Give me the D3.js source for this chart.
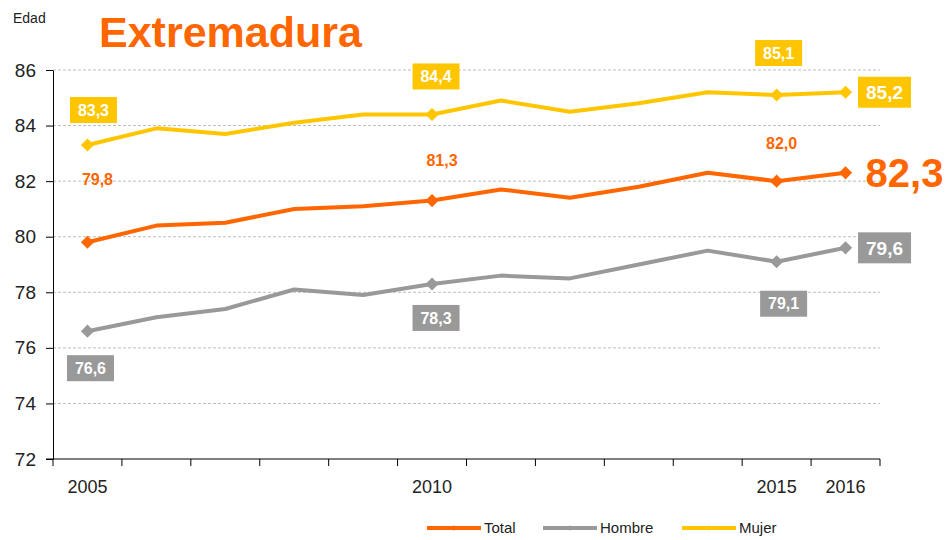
<!DOCTYPE html>
<html>
<head>
<meta charset="utf-8">
<script src="https://cdn.jsdelivr.net/npm/d3@7"></script>
<style>
  body { margin: 0; background: #fff; }
  svg { font-family: "Liberation Sans", Arial, sans-serif; }
</style>
</head>
<body>
<svg id="chart" width="949" height="540"></svg>
<script>
const years = [2005, 2006, 2007, 2008, 2009, 2010, 2011, 2012, 2013, 2014, 2015, 2016];
const total = [79.8, 80.4, 80.5, 81.0, 81.1, 81.3, 81.7, 81.4, 81.8, 82.3, 82.0, 82.3];
const hombre = [76.6, 77.1, 77.4, 78.1, 77.9, 78.3, 78.6, 78.5, 79.0, 79.5, 79.1, 79.6];
const mujer = [83.3, 83.9, 83.7, 84.1, 84.4, 84.4, 84.9, 84.5, 84.8, 85.2, 85.1, 85.2];
const yTicks = [72, 74, 76, 78, 80, 82, 84, 86];
const xLabels = [2005, 2010, 2015, 2016];
const markerYears = [2005, 2010, 2015, 2016];
const seriesNames = ["Total", "Hombre", "Mujer"];

const colors = { Total: "#ff6600", Hombre: "#999999", Mujer: "#ffc600" };

const svg = d3.select("#chart");
const plotLeft = 53, plotRight = 880, plotTop = 70, plotBottom = 459;

const x = d3.scaleBand().domain(years).range([plotLeft, plotRight]);
const y = d3.scaleLinear().domain([72, 86]).range([plotBottom, plotTop]);
const cx = d => x(d) + x.bandwidth() / 2;

// gridlines
svg.append("g").selectAll("line")
  .data(yTicks.filter(t => t > 72))
  .enter().append("line")
  .attr("x1", plotLeft).attr("x2", plotRight)
  .attr("y1", d => y(d)).attr("y2", d => y(d))
  .attr("stroke", "#bdbdbd").attr("stroke-dasharray", "3,2").attr("stroke-width", 1);

// y axis
const yAxis = d3.axisLeft(y).tickValues(yTicks).tickSize(7).tickSizeOuter(0).tickPadding(10).tickFormat(d3.format("d"));
const gy = svg.append("g").attr("transform", "translate(" + plotLeft + ",0)").call(yAxis);
gy.select(".domain").attr("stroke", "#000");
gy.selectAll("text").attr("font-size", 19).attr("fill", "#222").attr("font-family", "Liberation Sans, Arial");

// x axis with tick marks between categories
const gx = svg.append("g").attr("transform", "translate(0," + plotBottom + ")");
gx.append("line").attr("x1", plotLeft - 7).attr("x2", plotRight).attr("stroke", "#000");
gx.selectAll(".tk")
  .data(years.map(d => x(d) + x.bandwidth()).concat([plotLeft]))
  .enter().append("line")
  .attr("x1", d => d).attr("x2", d => d).attr("y1", 0).attr("y2", 7)
  .attr("stroke", "#000");
gx.selectAll("text")
  .data(xLabels)
  .enter().append("text")
  .attr("x", d => cx(d)).attr("y", 34)
  .attr("text-anchor", "middle")
  .attr("font-size", 18).attr("fill", "#222")
  .text(d => d);

// lines
const data = { Total: total, Hombre: hombre, Mujer: mujer };
const line = d3.line().x((d, i) => cx(years[i])).y(d => y(d));
seriesNames.forEach(name => {
  svg.append("path")
    .datum(data[name])
    .attr("d", line)
    .attr("fill", "none")
    .attr("stroke", colors[name])
    .attr("stroke-width", 4)
    .attr("stroke-linejoin", "round");
  svg.append("g").selectAll("path")
    .data(markerYears)
    .enter().append("path")
    .attr("d", d3.symbol(d3.symbolDiamond2, 110)())
    .attr("transform", d => "translate(" + cx(d) + "," + y(data[name][years.indexOf(d)]) + ")")
    .attr("fill", colors[name]);
});

// labels: boxed (Mujer, Hombre) and plain (Total)
const fmt = v => v.toFixed(1).replace(".", ",");
const labels = [
  { s: "Mujer", yr: 2005, dx: 6, dy: -35, big: false },
  { s: "Mujer", yr: 2010, dx: 4, dy: -38, big: false },
  { s: "Mujer", yr: 2015, dx: 2, dy: -42, big: false },
  { s: "Mujer", yr: 2016, dx: 39, dy: 0, big: true },
  { s: "Hombre", yr: 2005, dx: 3, dy: 37, big: false },
  { s: "Hombre", yr: 2010, dx: 4, dy: 34, big: false },
  { s: "Hombre", yr: 2015, dx: 7, dy: 42, big: false },
  { s: "Hombre", yr: 2016, dx: 39, dy: 0, big: true },
  { s: "Total", yr: 2005, dx: 10, dy: -63, big: false },
  { s: "Total", yr: 2010, dx: 10, dy: -40, big: false },
  { s: "Total", yr: 2015, dx: 5, dy: -38, big: false },
  { s: "Total", yr: 2016, dx: 59, dy: 0, big: true }
];

labels.forEach(l => {
  const v = data[l.s][years.indexOf(l.yr)];
  const px = cx(l.yr) + l.dx, py = y(v) + l.dy;
  if (l.s === "Total") {
    svg.append("text")
      .attr("x", px).attr("y", py)
      .attr("dy", "0.36em")
      .attr("text-anchor", "middle")
      .attr("font-weight", "bold")
      .attr("font-size", l.big ? 40 : 16)
      .attr("fill", colors.Total)
      .text(fmt(v));
  } else {
    const w = l.big ? 53 : 47, h = l.big ? 31 : 26;
    svg.append("rect")
      .attr("x", px - w / 2).attr("y", py - h / 2)
      .attr("width", w).attr("height", h)
      .attr("fill", colors[l.s]);
    svg.append("text")
      .attr("x", px).attr("y", py)
      .attr("dy", "0.36em")
      .attr("text-anchor", "middle")
      .attr("font-weight", "bold")
      .attr("font-size", l.big ? 19 : 16)
      .attr("fill", "#fff")
      .text(fmt(v));
  }
});

// title and unit
svg.append("text").attr("x", 99).attr("y", 47)
  .attr("font-size", 43).attr("font-weight", "bold").attr("fill", "#ff6600")
  .text("Extremadura");
svg.append("text").attr("x", 13).attr("y", 23)
  .attr("font-size", 14).attr("fill", "#222")
  .text("Edad");

// legend
const legX = [427, 543, 682];
const lg = svg.append("g").attr("transform", "translate(0,528)");
seriesNames.forEach((name, i) => {
  lg.append("line").attr("x1", legX[i]).attr("x2", legX[i] + 54)
    .attr("stroke", colors[name]).attr("stroke-width", 4);
  lg.append("path")
    .attr("d", d3.symbol(d3.symbolDiamond2, 20)())
    .attr("transform", "translate(" + (legX[i] + 27) + ",0)")
    .attr("fill", colors[name]);
  lg.append("text").attr("x", legX[i] + 57).attr("y", 0).attr("dy", "0.36em")
    .attr("font-size", 15).attr("fill", "#222")
    .text(name);
});
</script>
</body>
</html>
